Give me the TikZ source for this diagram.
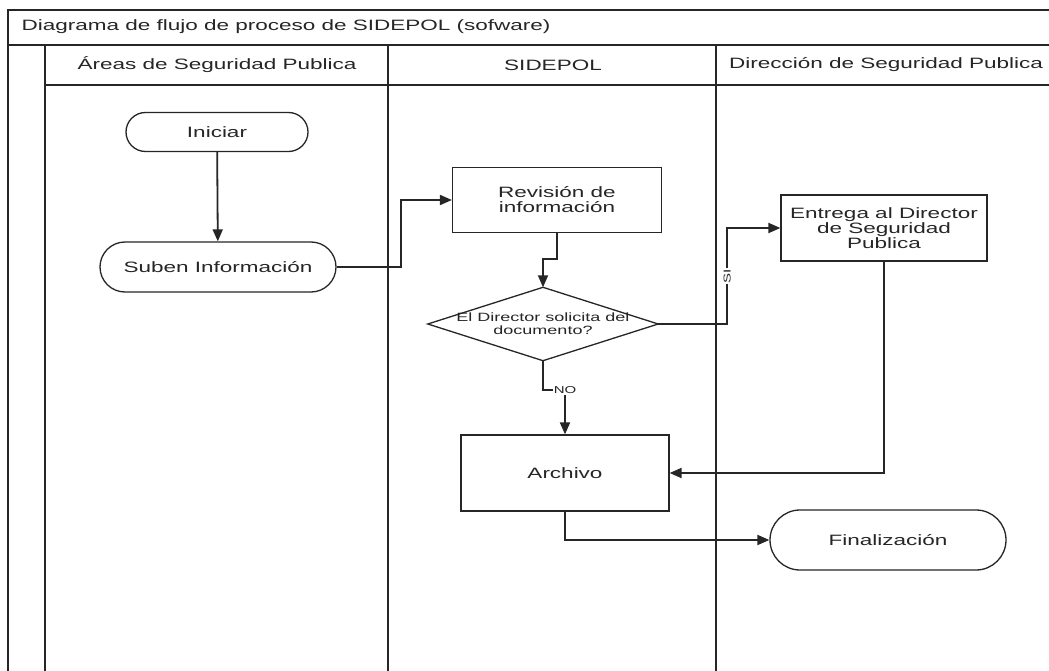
\documentclass[tikz,border=0pt]{standalone}
\usepackage{fontspec}
\setmainfont[FakeStretch=1.5]{Liberation Sans}
\usetikzlibrary{arrows.meta,shapes.misc}
\definecolor{ink}{HTML}{262626}
\tikzset{
  frame/.style={draw=ink, line width=1.2pt},
  term/.style={rounded rectangle, draw=ink, line width=1.3pt, inner sep=0pt, font=\fontsize{15}{15}\selectfont, text=ink},
  procbox/.style={rectangle, draw=ink, line width=1.2pt, inner sep=0pt, align=center, font=\fontsize{15}{15}\selectfont, text=ink},
  decis/.style={rectangle, inner sep=0pt, align=center, font=\fontsize{12}{13}\selectfont, text=ink},
  conn/.style={draw=ink, line width=1.8pt, -{Triangle[length=12pt,width=10pt]}},
  lbl/.style={font=\fontsize{10}{10}\selectfont, text=ink, fill=white, inner sep=1pt},
  hdr/.style={font=\fontsize{15}{15}\selectfont, text=ink}
}
\begin{document}
\begin{tikzpicture}[x=1pt,y=-1pt]
\useasboundingbox (0,0) rectangle (1049,671);
\fill[white] (0,0) rectangle (1049,671);
% pool frame
\draw[frame] (8,671) -- (8,10) -- (1049,10);
\draw[frame] (8,45) -- (1049,45);
\draw[frame] (45,85) -- (1049,85);
\draw[frame] (45,45) -- (45,671);
\draw[frame] (388,45) -- (388,671);
\draw[frame] (716,45) -- (716,671);
\node[hdr, anchor=west] (title) at (18,27) {Diagrama de flujo de proceso de SIDEPOL (sofware)};
\node[hdr] (h1) at (217,65) {Áreas de Seguridad Publica};
\node[hdr] (h2) at (553,65) {SIDEPOL};
\node[hdr] (h3) at (886,65) {Dirección de Seguridad Publica};
% nodes
\node[term, minimum width=182pt, minimum height=39pt] (ini) at (217,132) {Iniciar};
\node[term, minimum width=236pt, minimum height=50pt] (sub) at (218,267) {Suben Información};
\node[procbox, minimum width=209pt, minimum height=65pt] (rev) at (557,200) {Revisión de\\información};
\node[decis, minimum width=230pt, minimum height=73pt] (dia) at (543,324) {El Director solicita del\\documento?};
\draw[ink, line width=1.3pt] (dia.west) -- (dia.north) -- (dia.east) -- (dia.south) -- cycle;
\node[procbox, minimum width=206pt, minimum height=66pt] (ent) at (884,228) {Entrega al Director\\de Seguridad\\Publica};
\node[procbox, minimum width=208pt, minimum height=76pt] (arc) at (565,473) {Archivo};
\node[term, minimum width=236pt, minimum height=60pt] (fin) at (888,540) {Finalización};
% connectors
\draw[conn] (ini) -- (sub);
\draw[conn] (sub.east) -- ++(64,0) |- (rev.west);
\draw[conn] (rev.south) -- ++(0,26) -| (dia.north);
\draw[conn] (dia.east) -- ++(69,0) |- node[lbl, pos=0.25, rotate=90] {SI} (ent.west);
\coordinate (nobend) at (565,390);
\draw[conn] (dia.south) |- (nobend) -- (arc.north);
\node[lbl] (no) at (565,390) {NO};
\draw[conn] (ent.south) |- (arc.east);
\draw[conn] (arc.south) |- (fin.west);
\end{tikzpicture}
\end{document}
